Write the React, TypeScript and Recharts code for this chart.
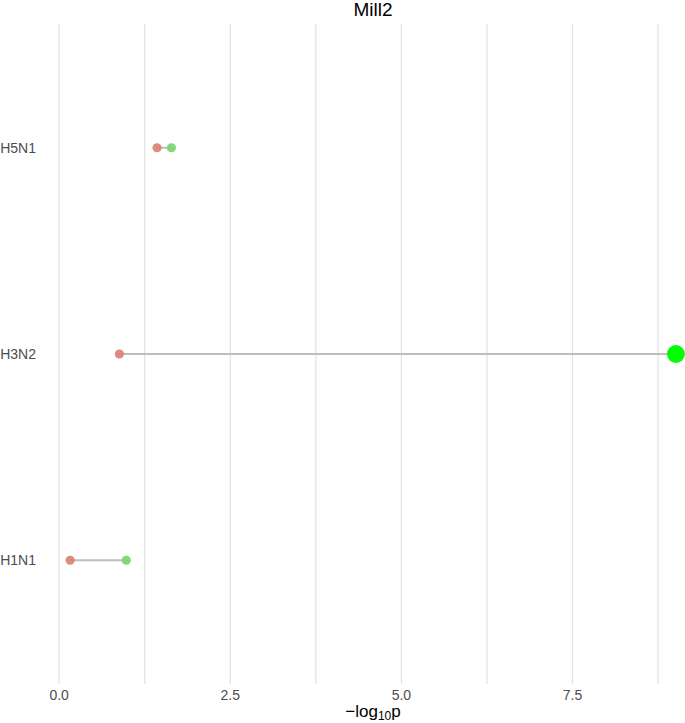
import {
  ScatterChart,
  Scatter,
  XAxis,
  YAxis,
  ReferenceLine,
} from "recharts";

// categories from top to bottom
const strains = ["H5N1", "H3N2", "H1N1"];
const lowValues = [1.43, 0.88, 0.16];
const highValues = [1.64, 9.01, 0.98];
const highSignificant = [false, true, false];

const xTicks = [0, 2.5, 5, 7.5];
const gridValues = [0, 1.25, 2.5, 3.75, 5, 6.25, 7.5, 8.75];

// y position: top category gets the highest value
const yPos = (i: number) => strains.length - i;

const lowPoints = strains.map((s, i) => ({ strain: s, x: lowValues[i], y: yPos(i) }));
const highPoints = strains.map((s, i) => ({
  strain: s,
  x: highValues[i],
  y: yPos(i),
  sig: highSignificant[i],
}));

const LowDot = (props: any) => (
  <circle cx={props.cx} cy={props.cy} r={4.6} fill="#d9806f" fillOpacity={0.9} />
);

const HighDot = (props: any) => {
  const sig = props.payload?.sig;
  return (
    <circle
      cx={props.cx}
      cy={props.cy}
      r={sig ? 9 : 4.6}
      fill={sig ? "#00ff00" : "#7dd675"}
      fillOpacity={sig ? 1 : 0.95}
    />
  );
};

export default function App() {
  const tickStyle = { fill: "#4d4d4d", fontSize: 14, fontFamily: "Liberation Sans, Arial, sans-serif" };
  return (
    <div
      style={{
        position: "absolute",
        left: 0,
        top: 0,
        width: 685,
        height: 723,
        overflow: "hidden",
        background: "#fff",
        fontFamily: "Liberation Sans, Arial, sans-serif",
      }}
    >
      <div
        style={{
          position: "absolute",
          left: 0,
          width: 746,
          top: 0,
          textAlign: "center",
          fontSize: 19,
          lineHeight: "19px",
          color: "#000",
          zIndex: 2,
        }}
      >
        Mill2
      </div>
      <ScatterChart
        width={720}
        height={723}
        margin={{ top: 24, right: 14, bottom: 0, left: 0 }}
      >
        {gridValues.map((v) => (
          <ReferenceLine key={v} x={v} stroke="#e2e2e2" strokeWidth={1.2} ifOverflow="visible" />
        ))}
        <XAxis
          type="number"
          dataKey="x"
          domain={[-0.28, 9.45]}
          ticks={xTicks}
          tickFormatter={(v) => v.toFixed(1)}
          axisLine={false}
          tickLine={false}
          tickSize={4}
          tickMargin={2}
          tick={tickStyle}
          height={39}
          allowDataOverflow
        />
        <YAxis
          type="number"
          dataKey="y"
          domain={[0.4, 3.6]}
          ticks={[1, 2, 3]}
          tickFormatter={(v) => strains[strains.length - v] ?? ""}
          axisLine={false}
          tickLine={false}
          tickSize={2}
          tickMargin={2}
          tick={tickStyle}
          width={40}
          allowDataOverflow
        />
        {strains.map((s, i) => (
          <ReferenceLine
            key={s}
            segment={[
              { x: lowValues[i], y: yPos(i) },
              { x: highValues[i], y: yPos(i) },
            ]}
            stroke="#bdbdbd"
            strokeWidth={2}
            ifOverflow="visible"
          />
        ))}
        <Scatter data={lowPoints} shape={LowDot} isAnimationActive={false} />
        <Scatter data={highPoints} shape={HighDot} isAnimationActive={false} />
      </ScatterChart>
      <div
        style={{
          position: "absolute",
          left: 0,
          width: 746,
          top: 702,
          textAlign: "center",
          fontSize: 17,
          lineHeight: "20px",
          color: "#000",
        }}
      >
        −log<sub style={{ fontSize: 12, verticalAlign: "-3px" }}>10</sub>p
      </div>
    </div>
  );
}
